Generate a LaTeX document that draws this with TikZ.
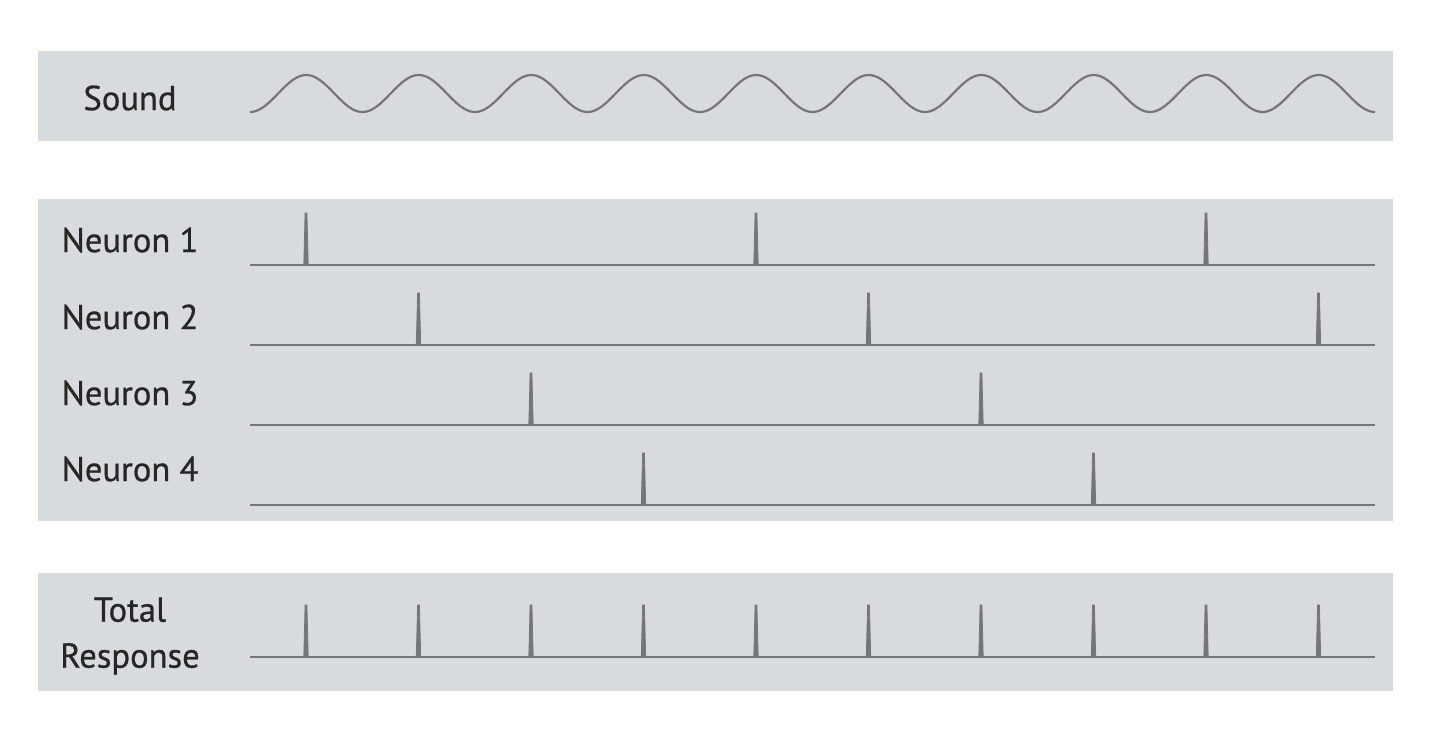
\documentclass[tikz,border=0pt]{standalone}
\usepackage{fontspec}
\setmainfont{PT Sans}
\newfontfamily\lblfont{PT Sans}[FakeBold=0.7]
\definecolor{panel}{RGB}{215,219,221}
\definecolor{trace}{RGB}{118,118,118}
\definecolor{labeltext}{RGB}{38,38,38}
\tikzset{
  panelbox/.style={fill=panel, draw=none},
  baseline/.style={draw=trace, line width=1.3pt},
  wave/.style={draw=trace, line width=1.1pt},
  lbl/.style={font=\lblfont\fontsize{17.3}{19}\selectfont, text=labeltext, inner sep=0pt, align=center},
  spikeshape/.style={fill=trace, draw=trace, line width=0.4pt, line join=round}
}
\newcommand{\myspike}[2]{\filldraw[spikeshape] (#1-2.2,#2) -- (#1-0.9,#2-52) -- (#1+0.9,#2-52) -- (#1+2.2,#2) -- cycle;}
\begin{document}
\begin{tikzpicture}[x=0.5pt,y=-0.5pt]
\useasboundingbox (0,0) rectangle (1440,751);
% panels
\fill[panelbox] (38,51) rectangle (1393,141);
\fill[panelbox] (38,199) rectangle (1393,521);
\fill[panelbox] (38,573) rectangle (1393,691);
% labels
\node[lbl] (sound) at (130,98) {Sound};
\node[lbl] (n1) at (130,240) {Neuron 1};
\node[lbl] (n2) at (130,317) {Neuron 2};
\node[lbl] (n3) at (130,393) {Neuron 3};
\node[lbl] (n4) at (130,469) {Neuron 4};
\node[lbl, font=\lblfont\fontsize{17.3}{23}\selectfont] (tot) at (130,636) {Total\\Response};
% sound wave
\draw[wave, domain=250:1375, samples=400, smooth] plot (\x, {93.5+18.5*cos(3.2*(\x-250))});
% baselines
\coordinate (b1s) at (250,265); \coordinate (b1e) at (1375,265);
\coordinate (b2s) at (250,345); \coordinate (b2e) at (1375,345);
\coordinate (b3s) at (250,425); \coordinate (b3e) at (1375,425);
\coordinate (b4s) at (250,505); \coordinate (b4e) at (1375,505);
\coordinate (bts) at (250,657); \coordinate (bte) at (1375,657);
\draw[baseline] (b1s) -- (b1e);
\draw[baseline] (b2s) -- (b2e);
\draw[baseline] (b3s) -- (b3e);
\draw[baseline] (b4s) -- (b4e);
\draw[baseline] (bts) -- (bte);
% spikes
\foreach \k in {0,4,8} {\pgfmathsetmacro{\sx}{306+112.5*\k}\myspike{\sx}{265}}
\foreach \k in {1,5,9} {\pgfmathsetmacro{\sx}{306+112.5*\k}\myspike{\sx}{345}}
\foreach \k in {2,6} {\pgfmathsetmacro{\sx}{306+112.5*\k}\myspike{\sx}{425}}
\foreach \k in {3,7} {\pgfmathsetmacro{\sx}{306+112.5*\k}\myspike{\sx}{505}}
\foreach \k in {0,...,9} {\pgfmathsetmacro{\sx}{306+112.5*\k}\myspike{\sx}{657}}
\end{tikzpicture}
\end{document}
